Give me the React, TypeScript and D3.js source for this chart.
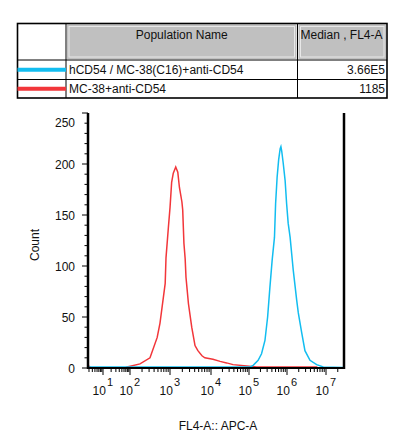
import React from "react";
import * as d3 from "d3";

// ---- data ----
const populationNames = ["hCD54 / MC-38(C16)+anti-CD54", "MC-38+anti-CD54"];
const medianLabels = ["3.66E5", "1185"];
const seriesColors = ["#12bdf0", "#f2363a"];

// x in log10 decades of FL4-A, y = count
const redDecade = [0.46, 0.56, 1.81, 1.89, 2.25, 2.5, 2.68, 2.75, 2.88, 2.9, 2.96, 3.0, 3.04, 3.08, 3.14, 3.19, 3.23, 3.29, 3.31, 3.34, 3.37, 3.39, 3.45, 3.53, 3.61, 3.68, 3.78, 3.85, 4.05, 4.24, 4.41, 4.58, 4.94, 5.2, 6.76, 6.79, 7.46];
const redCount = [2, 0, 0, 1, 4, 10, 30, 44, 83, 108, 138, 157, 182, 191, 197, 192, 177, 163, 155, 122, 107, 89, 63, 40, 22, 17, 12, 10, 8.5, 6.5, 5, 3.3, 2, 1, 1, 0, 0];

const blueDecade = [0.44, 5.03, 5.11, 5.24, 5.33, 5.42, 5.49, 5.55, 5.61, 5.67, 5.7, 5.74, 5.78, 5.82, 5.84, 5.86, 5.9, 5.95, 5.99, 6.03, 6.08, 6.12, 6.16, 6.25, 6.29, 6.38, 6.46, 6.59, 6.76, 6.93, 7.46];
const blueCount = [1, 1, 2.6, 7.5, 14, 27, 50, 79, 106, 128, 161, 187, 204, 215, 217, 213, 201, 184, 161, 142, 128, 112, 96, 66, 54, 34, 17, 7.5, 3.3, 1, 0.5];

const yMajorTicks = [0, 50, 100, 150, 200, 250];
const xDecadeLabels = [1, 2, 3, 4, 5, 6, 7];
const xAxisTitle = "FL4-A:: APC-A";
const yAxisTitle = "Count";
const headerLabels = ["Population Name", "Median , FL4-A"];

export default function App() {
  const W = 398, H = 445;
  const left = 88, right = 344, top = 113, bottom = 368;

  // biexponential-like display: piecewise linear between decade stops
  const x = d3
    .scaleLinear()
    .domain([0.44, 1, 2, 3, 4, 5, 6, 7, 7.46])
    .range([left, 103, 130, 170, 211, 249, 287, 326, right]);
  const y = d3.scaleLinear().domain([0, 250]).range([bottom, top]);

  const line = d3
    .line<[number, number]>()
    .x((d) => x(d[0]))
    .y((d) => y(d[1]))
    .curve(d3.curveLinear);

  const redPts = redDecade.map((d, i) => [d, redCount[i]] as [number, number]);
  const bluePts = blueDecade.map((d, i) => [d, blueCount[i]] as [number, number]);

  const yMinor = d3.range(0, 251, 10).filter((v) => v % 50 !== 0);
  const xMinor: number[] = [];
  for (let dec = 0; dec <= 7; dec++) {
    for (let k = 2; k <= 9; k++) {
      const v = dec + Math.log10(k);
      if (v > 0.45 && v < 7.46) xMinor.push(v);
    }
  }

  const font = "'Liberation Sans', Arial, Helvetica, sans-serif";

  // table geometry
  const tL = 17.5, tR = 387, tT = 23.5, tB = 98;
  const c1 = 66, c2 = 297.5;
  const r1 = 60, r2 = 79.5;

  return (
    <svg
      width={W}
      height={H}
      style={{ position: "absolute", left: 0, top: 0, background: "#fff" }}
      fontFamily={font}
    >
      <rect x={0} y={0} width={W} height={H} fill="#fff" />
      {/* ---- table ---- */}
      <rect x={c1 + 1} y={tT + 1} width={c2 - c1 - 2} height={r1 - tT - 2} fill="#c0c0c0" />
      <rect x={c1 + 3} y={tT + 3} width={c2 - c1 - 6} height={r1 - tT - 6} fill="none" stroke="#e8e8e8" strokeWidth={1} />
      <rect x={c2 + 1} y={tT + 1} width={tR - c2 - 2} height={r1 - tT - 2} fill="#c0c0c0" />
      <rect x={c2 + 3} y={tT + 3} width={tR - c2 - 6} height={r1 - tT - 6} fill="none" stroke="#e8e8e8" strokeWidth={1} />
      <line x1={c1} x2={c1} y1={tT} y2={tB} stroke="#000" strokeWidth={1} />
      <line x1={c2} x2={c2} y1={tT} y2={tB} stroke="#000" strokeWidth={1} />
      <line x1={tL} x2={tR} y1={r1} y2={r1} stroke="#000" strokeWidth={1} />
      <line x1={tL} x2={tR} y1={r2} y2={r2} stroke="#000" strokeWidth={1} />
      <rect x={tL} y={tT} width={tR - tL} height={tB - tT} fill="none" stroke="#000" strokeWidth={1.6} />
      <text x={(c1 + c2) / 2} y={39} fontSize={12} textAnchor="middle" fill="#111">
        {headerLabels[0]}
      </text>
      <text x={c2 + 3} y={39} fontSize={12} fill="#111">
        {headerLabels[1]}
      </text>
      {populationNames.map((n, i) => {
        const rowMid = i === 0 ? (r1 + r2) / 2 : (r2 + tB) / 2;
        return (
          <g key={n}>
            <line x1={tL} x2={c1} y1={rowMid} y2={rowMid} stroke={seriesColors[i]} strokeWidth={4} />
            <text x={c1 + 3} y={rowMid + 4.5} fontSize={12} fill="#111">
              {n}
            </text>
            <text x={tR - 2} y={rowMid + 4.5} fontSize={12} textAnchor="end" fill="#111">
              {medianLabels[i]}
            </text>
          </g>
        );
      })}

      {/* ---- histogram curves ---- */}
      <path d={line(redPts) || ""} fill="none" stroke={seriesColors[1]} strokeWidth={1.5} />
      <path d={line(bluePts) || ""} fill="none" stroke={seriesColors[0]} strokeWidth={1.5} />

      {/* ---- frame / axes ---- */}
      <line x1={left} x2={left} y1={top} y2={bottom + 1} stroke="#000" strokeWidth={2.5} />
      <line x1={right} x2={right} y1={top} y2={bottom + 1} stroke="#000" strokeWidth={2.5} />
      <line x1={left - 1} x2={right + 1} y1={bottom} y2={bottom} stroke="#000" strokeWidth={2.2} />

      {/* y ticks */}
      {yMajorTicks.map((v) => (
        <g key={"ym" + v}>
          <line x1={left - 6} x2={left} y1={y(v)} y2={y(v)} stroke="#000" strokeWidth={1} />
          <text
            x={75}
            y={v === 250 ? y(v) + 14 : y(v) + 4.5}
            fontSize={12}
            textAnchor="end"
            fill="#111"
          >
            {v}
          </text>
        </g>
      ))}
      {yMinor.map((v) => (
        <line key={"yn" + v} x1={left - 3.5} x2={left} y1={y(v)} y2={y(v)} stroke="#000" strokeWidth={1} />
      ))}

      {/* x ticks */}
      {xDecadeLabels.map((dec) => (
        <g key={"xm" + dec}>
          <line x1={x(dec)} x2={x(dec)} y1={bottom} y2={bottom + 7} stroke="#000" strokeWidth={1} />
          <text x={x(dec) - 10.5} y={395} fontSize={12} fill="#111">
            10
          </text>
          <text x={x(dec) + 4} y={386} fontSize={11} fill="#111">
            {dec}
          </text>
        </g>
      ))}
      {xMinor.map((v, i) => (
        <line key={"xn" + i} x1={x(v)} x2={x(v)} y1={bottom} y2={bottom + 4} stroke="#000" strokeWidth={1} />
      ))}

      {/* titles */}
      <text x={218} y={430} fontSize={12} textAnchor="middle" fill="#111">
        {xAxisTitle}
      </text>
      <text
        transform={`translate(39, ${245}) rotate(-90)`}
        fontSize={12}
        textAnchor="middle"
        fill="#111"
      >
        {yAxisTitle}
      </text>
    </svg>
  );
}
